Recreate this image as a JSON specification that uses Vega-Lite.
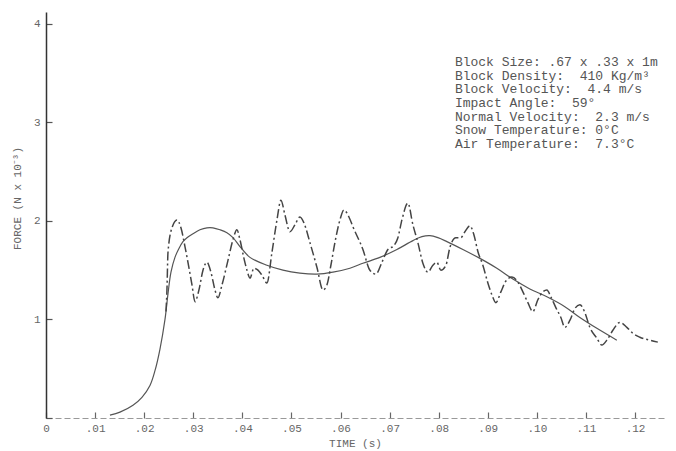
{
  "$schema": "https://vega.github.io/schema/vega-lite/v6.json",
  "width": 618,
  "height": 406,
  "autosize": {"type": "none"},
  "padding": {"left": 46, "top": 12, "right": 12, "bottom": 33},
  "background": "#ffffff",
  "config": {
    "view": {"stroke": null},
    "font": "Liberation Mono",
    "axis": {"grid": false, "labelFont": "Liberation Mono", "titleFont": "Liberation Mono", "labelColor": "#666666", "titleColor": "#666666", "titleFontWeight": "normal", "labelFontSize": 11, "titleFontSize": 11}
  },
  "datasets": {
    "fit": [
      {"t": 0.01303, "F": 0.03}, {"t": 0.01507, "F": 0.06}, {"t": 0.01772, "F": 0.13}, {"t": 0.01955, "F": 0.21},
      {"t": 0.02118, "F": 0.33}, {"t": 0.0222, "F": 0.48}, {"t": 0.02322, "F": 0.7}, {"t": 0.02424, "F": 1.0},
      {"t": 0.02485, "F": 1.26}, {"t": 0.02546, "F": 1.48}, {"t": 0.02627, "F": 1.63}, {"t": 0.02708, "F": 1.72},
      {"t": 0.0279, "F": 1.79}, {"t": 0.02872, "F": 1.83}, {"t": 0.02994, "F": 1.87}, {"t": 0.03136, "F": 1.91},
      {"t": 0.03279, "F": 1.93}, {"t": 0.03401, "F": 1.93}, {"t": 0.03544, "F": 1.91}, {"t": 0.03686, "F": 1.88},
      {"t": 0.03809, "F": 1.83}, {"t": 0.03951, "F": 1.74}, {"t": 0.04155, "F": 1.63}, {"t": 0.04501, "F": 1.55},
      {"t": 0.04827, "F": 1.5}, {"t": 0.05173, "F": 1.47}, {"t": 0.0552, "F": 1.46}, {"t": 0.05845, "F": 1.48},
      {"t": 0.06191, "F": 1.52}, {"t": 0.06456, "F": 1.57}, {"t": 0.06802, "F": 1.63}, {"t": 0.07149, "F": 1.71},
      {"t": 0.07475, "F": 1.8}, {"t": 0.07658, "F": 1.84}, {"t": 0.07821, "F": 1.85}, {"t": 0.07984, "F": 1.83},
      {"t": 0.08167, "F": 1.79}, {"t": 0.08493, "F": 1.71}, {"t": 0.08839, "F": 1.62}, {"t": 0.09185, "F": 1.52},
      {"t": 0.09511, "F": 1.41}, {"t": 0.09857, "F": 1.31}, {"t": 0.10204, "F": 1.23}, {"t": 0.1057, "F": 1.13},
      {"t": 0.10876, "F": 1.02}, {"t": 0.11222, "F": 0.91}, {"t": 0.11629, "F": 0.79}
    ],
    "measured": [
      {"t": 0.02444, "F": 1.08}, {"t": 0.02464, "F": 1.3}, {"t": 0.02485, "F": 1.68}, {"t": 0.02566, "F": 1.93},
      {"t": 0.02668, "F": 2.01}, {"t": 0.02749, "F": 1.93}, {"t": 0.02831, "F": 1.74}, {"t": 0.02892, "F": 1.58},
      {"t": 0.02974, "F": 1.35}, {"t": 0.03035, "F": 1.18}, {"t": 0.03116, "F": 1.3}, {"t": 0.03198, "F": 1.5},
      {"t": 0.03279, "F": 1.58}, {"t": 0.0336, "F": 1.48}, {"t": 0.03442, "F": 1.3}, {"t": 0.03503, "F": 1.22},
      {"t": 0.03585, "F": 1.35}, {"t": 0.03707, "F": 1.6}, {"t": 0.03809, "F": 1.81}, {"t": 0.0389, "F": 1.91},
      {"t": 0.03951, "F": 1.81}, {"t": 0.04033, "F": 1.62}, {"t": 0.04094, "F": 1.5}, {"t": 0.04155, "F": 1.42},
      {"t": 0.04236, "F": 1.52}, {"t": 0.04318, "F": 1.5}, {"t": 0.04399, "F": 1.45}, {"t": 0.04501, "F": 1.37},
      {"t": 0.04603, "F": 1.68}, {"t": 0.04705, "F": 2.01}, {"t": 0.04786, "F": 2.21}, {"t": 0.04868, "F": 2.06},
      {"t": 0.04969, "F": 1.89}, {"t": 0.05071, "F": 1.96}, {"t": 0.05173, "F": 2.04}, {"t": 0.05255, "F": 1.98},
      {"t": 0.05377, "F": 1.78}, {"t": 0.05519, "F": 1.53}, {"t": 0.05642, "F": 1.3}, {"t": 0.05723, "F": 1.35},
      {"t": 0.05804, "F": 1.55}, {"t": 0.05886, "F": 1.78}, {"t": 0.05988, "F": 2.01}, {"t": 0.06069, "F": 2.11},
      {"t": 0.06171, "F": 2.04}, {"t": 0.06253, "F": 1.94}, {"t": 0.06456, "F": 1.71}, {"t": 0.06599, "F": 1.5},
      {"t": 0.06721, "F": 1.46}, {"t": 0.06843, "F": 1.58}, {"t": 0.06965, "F": 1.71}, {"t": 0.07088, "F": 1.75},
      {"t": 0.07169, "F": 1.83}, {"t": 0.07251, "F": 2.01}, {"t": 0.07373, "F": 2.18}, {"t": 0.07475, "F": 1.96},
      {"t": 0.07576, "F": 1.78}, {"t": 0.07678, "F": 1.57}, {"t": 0.0778, "F": 1.48}, {"t": 0.07882, "F": 1.55},
      {"t": 0.07963, "F": 1.58}, {"t": 0.08045, "F": 1.5}, {"t": 0.08147, "F": 1.55}, {"t": 0.08228, "F": 1.73},
      {"t": 0.0835, "F": 1.83}, {"t": 0.08452, "F": 1.83}, {"t": 0.08534, "F": 1.89}, {"t": 0.08635, "F": 1.95},
      {"t": 0.08717, "F": 1.86}, {"t": 0.08798, "F": 1.69}, {"t": 0.089, "F": 1.55}, {"t": 0.09002, "F": 1.37},
      {"t": 0.09084, "F": 1.25}, {"t": 0.09165, "F": 1.17}, {"t": 0.09267, "F": 1.28}, {"t": 0.09369, "F": 1.39},
      {"t": 0.09491, "F": 1.43}, {"t": 0.09613, "F": 1.38}, {"t": 0.09715, "F": 1.28}, {"t": 0.09817, "F": 1.17},
      {"t": 0.09919, "F": 1.08}, {"t": 0.1002, "F": 1.2}, {"t": 0.10122, "F": 1.28}, {"t": 0.10204, "F": 1.3},
      {"t": 0.10285, "F": 1.23}, {"t": 0.10387, "F": 1.12}, {"t": 0.10489, "F": 1.02}, {"t": 0.1057, "F": 0.92},
      {"t": 0.10672, "F": 0.99}, {"t": 0.10774, "F": 1.11}, {"t": 0.10876, "F": 1.15}, {"t": 0.10978, "F": 1.07},
      {"t": 0.11079, "F": 0.92}, {"t": 0.11222, "F": 0.81}, {"t": 0.11324, "F": 0.74}, {"t": 0.11426, "F": 0.79},
      {"t": 0.11548, "F": 0.89}, {"t": 0.1169, "F": 0.97}, {"t": 0.11833, "F": 0.92}, {"t": 0.11955, "F": 0.86},
      {"t": 0.12098, "F": 0.82}, {"t": 0.12301, "F": 0.79}, {"t": 0.12464, "F": 0.77}
    ]
  },
  "layer": [
    {
      "data": {"name": "fit"},
      "mark": {"type": "line", "interpolate": "catmull-rom", "color": "#555555", "strokeWidth": 1.2},
      "encoding": {
        "x": {
          "field": "t", "type": "quantitative",
          "scale": {"domain": [0, 0.1259], "nice": false, "zero": false},
          "axis": {
            "title": "TIME (s)", "titlePadding": 4,
            "values": [0, 0.01, 0.02, 0.03, 0.04, 0.05, 0.06, 0.07, 0.08, 0.09, 0.1, 0.11, 0.12],
            "labelExpr": "datum.value == 0 ? '0' : replace(format(datum.value, '.2f'), '0.', '.')",
            "domainColor": "#999999", "domainDash": [6, 3], "domainWidth": 1,
            "tickColor": "#666666", "tickSize": -6, "tickWidth": 1.2,
            "labelPadding": 10, "labelFlush": false
          }
        },
        "y": {
          "field": "F", "type": "quantitative",
          "scale": {"domain": [0, 4.12], "nice": false},
          "axis": {
            "title": "FORCE (N x 10⁻³)",
            "values": [0, 1, 2, 3, 4],
            "labelExpr": "datum.value == 0 ? '' : format(datum.value, 'd')",
            "domainColor": "#333333", "domainWidth": 1.5,
            "tickColor": "#555555", "tickSize": -6, "tickWidth": 1.2,
            "labelPadding": 12, "titleX": -29, "titleY": 186, "titleAngle": -90, "titleAlign": "center", "titleBaseline": "middle"
          }
        }
      }
    },
    {
      "data": {"name": "measured"},
      "mark": {"type": "line", "interpolate": "monotone", "color": "#444444", "strokeWidth": 1.5, "strokeDash": [9, 3, 2, 3]},
      "encoding": {
        "x": {"field": "t", "type": "quantitative"},
        "y": {"field": "F", "type": "quantitative"}
      }
    },
    {
      "data": {"values": [{}]},
      "mark": {"type": "text", "align": "left", "baseline": "middle", "font": "Liberation Mono", "fontSize": 13, "color": "#555555", "lineHeight": 13.6},
      "encoding": {
        "x": {"datum": 0.0833, "type": "quantitative"},
        "y": {"datum": 3.61, "type": "quantitative"},
        "text": {"value": ["Block Size: .67 x .33 x 1m", "Block Density:\u00a0 410 Kg/m³", "Block Velocity:\u00a0 4.4 m/s", "Impact Angle:\u00a0 59°", "Normal Velocity:\u00a0 2.3 m/s", "Snow Temperature: 0°C", "Air Temperature:\u00a0 7.3°C"]}
      }
    }
  ]
}
